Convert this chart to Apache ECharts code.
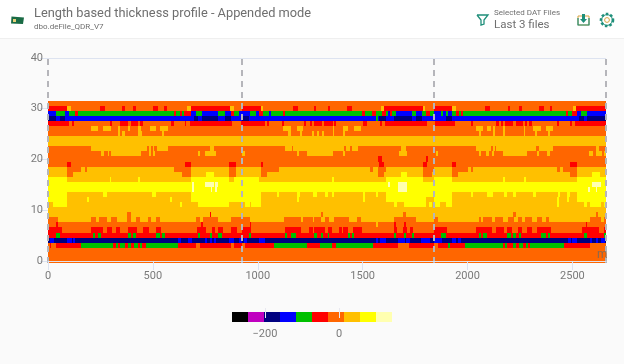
<!DOCTYPE html>
<html>
<head>
<meta charset="utf-8">
<style>
  html, body { margin: 0; padding: 0; background: #fafafa; }
  #main { width: 624px; height: 364px; }
</style>
<script src="https://cdn.jsdelivr.net/npm/echarts@6/dist/echarts.min.js"></script>
</head>
<body>
<div id="main"></div>
<script>
// thickness deviation, one value per colour band
const N = -180, B = -137, G = -94, R = -51, O = -8, A = 35, Y = 78, L = 121;

const bandEdges = [-289, -246, -202, -159, -116, -73, -30, 13, 56, 99, 143];
const bandColors = ['#000000', '#c000c0', '#000080', '#0000ff', '#00c000', '#ff0000', '#ff6600', '#ffc000', '#ffff00', '#ffffb0'];
const legendTicks = [-200, 0];

const xTicks = [0, 500, 1000, 1500, 2000, 2500];
const yTicks = [0, 10, 20, 30, 40];
const xEnd = 2660;
// where each appended DAT file starts
const fileStarts = [0, 925, 1841, 2660];

// each row: start metre, value, start metre, value ...
const row31 = [0,O];
const row30 = [0,R,89,A,108,O,248,R,272,O,353,R,367,O,405,R,420,O,502,R,526,O,555,R,569,O,661,A,682,R,868,A,887,O,925,R,1015,A,1024,O,1170,R,1194,O,1267,R,1279,O,1333,R,1345,O,1426,R,1450,O,1589,A,1600,R,1787,A,1798,O,1841,R,1925,A,1946,O,2084,R,2108,O,2191,R,2204,O,2247,R,2259,O,2342,R,2364,O,2394,R,2404,O,2501,A,2518,R];
const row29 = [0,B,40,G,80,B,100,G,130,R,145,G,600,R,610,G,630,R,640,G,650,R,680,B,705,G,735,B,810,G,845,B,870,R,885,G,910,B,965,G,990,B,1005,R,1025,G,1055,B,1065,G,1120,R,1130,G,1495,R,1510,G,1545,R,1565,G,1590,R,1610,G,1620,B,1630,R,1640,G,1660,B,1735,G,1755,B,1785,G,1800,R,1820,G,1841,B,1875,G,1885,B,1895,G,1905,B,1925,G,1945,R,1960,G,1970,R,1980,G,2470,R,2480,G,2500,R,2520,B,2540,G,2570,B];
const row28 = [0,N,40,B,55,N,80,B,695,N,715,B,735,N,810,B,845,N,870,B,925,N,960,B,1565,G,1575,B,1580,N,1610,B,1650,N,1735,B,1755,N,1785,B,1895,N,1925,B,2530,N,2555,B,2570,N];
const row27 = [0,R,100,O,115,R,125,O,295,R,305,O,345,R,380,O,395,R,430,O,440,R,455,O,585,R,600,O,655,R,660,O,675,R,875,O,920,R,1035,O,1045,R,1055,O,1115,R,1125,O,1220,R,1230,O,1250,R,1260,O,1270,R,1305,O,1315,R,1360,O,1365,R,1375,O,1500,R,1520,O,1585,R,1590,O,1605,R,1805,O,1845,R,1940,O,2015,R,2025,O,2135,R,2150,O,2160,R,2170,O,2180,R,2215,O,2230,R,2265,O,2275,R,2285,O,2295,R,2305,O,2425,R,2435,O,2490,R,2500,O,2510,R];
const row26 = [0,O,205,A,240,O,260,A,300,O,335,A,345,O,380,A,390,O,430,A,445,O,485,A,515,O,535,A,570,O,1120,A,1160,O,1185,A,1215,O,1360,A,1365,O,1405,A,1430,O,1460,A,1490,O,2040,A,2075,O,2095,A,2110,O,2120,A,2130,O,2170,A,2180,O,2270,A,2275,O,2310,A,2350,O,2375,A,2405,O];
const row25 = [0,O,335,A,345,O,355,A,365,O,430,A,450,O,545,A,555,O,1145,A,1160,O,1200,A,1210,O,1260,A,1270,O,1280,A,1290,O,1305,A,1315,O,1360,A,1365,O,1405,A,1415,O,2055,A,2065,O,2120,A,2130,O,2170,A,2180,O,2270,A,2275,O,2320,A,2330,O,2385,A,2395,O];
const row24 = [0,A];
const row23 = [0,A];
const row22 = [0,O,205,A,470,O,480,A,490,O,500,A,505,O,520,A,570,O,770,A,790,O,1130,A,1165,O,1170,A,1410,O,1420,A,1440,O,1450,A,1480,O,1685,A,1705,O,2040,A,2110,O,2120,A,2130,O,2135,A,2325,O,2340,A,2405,O,2610,A,2625,O];
const row21 = [0,O,255,A,265,O,285,A,290,O,300,A,445,O,480,A,490,O,500,A,510,O,715,A,725,O,750,A,800,O,925,A,940,O,1185,A,1195,O,1235,A,1360,O,1405,A,1415,O,1675,A,1710,O,1850,A,1860,O,2055,A,2065,O,2090,A,2100,O,2115,A,2125,O,2170,A,2285,O,2330,A,2340,O,2380,A,2395,O,2580,A,2600,O,2610,A,2640,O,2650,A];
const row20 = [0,O,1575,R,1590,O,1800,R,1810,O];
const row19 = [0,O,90,R,110,O,655,R,680,O,865,R,895,O,1015,R,1025,O,1580,R,1600,O,1790,R,1805,O,1925,R,1945,O,2490,R,2520,O];
const row18 = [0,A,90,O,155,A,175,O,185,A,600,O,680,A,865,O,895,A,1015,O,1100,A,1535,O,1550,A,1575,O,1610,A,1790,O,1840,A,1925,O,2000,A,2015,O,2025,A,2425,O,2440,A,2455,O,2520,A];
const row17 = [0,A,90,O,120,A,640,O,680,A,755,Y,790,A,865,O,895,A,1015,O,1045,A,1575,O,1600,A,1685,Y,1710,A,1790,O,1830,A,1925,O,1955,A,2490,O,2520,A,2595,Y,2630,A];
const row16 = [0,Y,90,A,295,Y,300,A,430,Y,440,A,680,Y,865,A,885,Y,1005,A,1355,Y,1365,A,1610,Y,1790,A,1840,Y,1925,A,2170,Y,2180,A,2270,Y,2280,A,2520,Y];
const row15 = [0,Y,685,L,695,Y,750,L,790,Y,795,L,810,Y,1620,L,1630,Y,1670,L,1710,Y,2595,L,2635,Y];
const row14 = [0,Y,685,L,695,Y,775,L,780,Y,795,L,805,Y,1670,L,1710,Y,2575,L,2585,Y,2610,L,2615,Y];
const row13 = [0,Y,90,A,260,Y,280,A,495,Y,515,A,680,Y,1015,A,1090,Y,1100,A,1185,Y,1200,A,1265,Y,1280,A,1320,Y,1335,A,1355,Y,1365,A,1500,Y,1510,A,1565,Y,1575,A,1610,Y,1925,A,2015,Y,2025,A,2095,Y,2120,A,2175,Y,2190,A,2215,Y,2230,A,2310,Y,2325,A,2430,Y,2440,A,2475,Y,2490,A,2520,Y];
const row12 = [0,Y,90,A,185,Y,195,A,580,Y,590,A,680,Y,1015,A,1185,Y,1195,A,1500,Y,1510,A,1610,Y,1800,A,1840,Y,1925,A,2425,Y,2435,A,2475,Y,2485,A,2520,Y];
const row11 = [0,A,25,Y,90,A,630,Y,640,A,715,Y,865,A,940,Y,965,A,970,Y,1015,A,1650,Y,1665,A,1695,Y,1800,A,1815,Y,1830,A,1845,Y,1870,A,1895,Y,1925,A,2425,Y,2435,A,2555,Y,2570,A,2585,Y,2635,A,2650,Y];
const row10 = [0,A];
const row09 = [0,A,375,O,395,A,770,R,775,A,1300,O,1310,A,1690,O,1705,A,2215,O,2230,A,2610,O,2620,A];
const row08 = [0,O,50,A,205,O,230,A,245,O,280,A,300,O,330,A,375,O,395,A,420,O,440,A,475,O,490,A,515,O,535,A,705,O,725,A,740,O,810,A,870,O,965,A,1125,O,1205,A,1215,O,1265,A,1270,O,1300,A,1320,O,1340,A,1365,O,1435,A,1475,O,1490,A,1650,O,1755,A,1841,O,1860,A,2055,O,2065,A,2075,O,2115,A,2130,O,2170,A,2195,O,2220,A,2240,O,2260,A,2275,O,2305,A,2330,O,2355,A,2375,O,2390,A,2585,O,2635,A,2650,O];
const row07 = [0,O,40,R,50,O,730,R,740,O,965,R,970,O,1565,A,1575,O,1650,R,1660,O,1695,R,1705,O,2565,R,2570,O];
const row06 = [0,R,65,O,205,R,260,O,280,R,305,O,325,R,345,O,380,R,425,O,455,R,480,O,515,R,540,O,710,R,755,O,780,R,795,O,810,R,835,O,870,R,900,O,925,R,970,O,1130,R,1205,O,1245,R,1265,O,1270,R,1320,O,1335,R,1355,O,1385,R,1400,O,1405,R,1430,O,1455,R,1495,O,1650,R,1665,O,1690,R,1710,O,1725,R,1740,O,1841,R,1900,O,2040,R,2115,O,2135,R,2175,O,2190,R,2210,O,2240,R,2260,O,2285,R,2305,O,2330,R,2400,O,2545,R,2625,O,2650,R];
const row05 = [0,R,40,G,55,R,215,G,225,R,240,G,255,R,380,G,395,R,405,G,420,R,515,G,535,R,545,G,560,R,715,G,725,R,770,G,780,R,810,G,830,R,960,G,970,R,1130,G,1140,R,1160,G,1180,R,1270,G,1280,R,1300,G,1310,R,1335,G,1340,R,1430,G,1440,R,1450,G,1460,R,1650,G,1660,R,1695,G,1705,R,1735,G,1745,R,1875,G,1895,R,2055,G,2065,R,2075,G,2095,R,2190,G,2205,R,2215,G,2230,R,2245,G,2255,R,2350,G,2375,R,2385,G,2395,R,2555,G,2570,R,2650,G];
const row04 = [0,N,10,B,30,N,90,B,115,N,120,B,130,N,620,B,635,N,665,B,685,N,750,B,760,N,770,B,780,N,790,B,800,N,865,B,885,N,910,B,925,N,935,B,950,N,1005,B,1035,N,1565,B,1575,N,1585,B,1610,N,1670,B,1700,N,1705,B,1725,N,1780,B,1820,N,1841,B,1880,N,1925,B,1945,N,1955,B,1970,N,2480,B,2495,N,2500,B,2520,N,2585,B,2595,N,2610,B,2620,N,2635,B,2655,N];
const row03 = [0,O,10,R,15,O,40,R,155,G,310,R,325,G,335,R,345,G,365,R,380,G,395,R,410,G,430,R,440,G,450,R,465,G,620,R,705,O,725,R,870,O,885,R,925,O,940,R,1075,G,1235,R,1295,G,1355,R,1375,G,1550,R,1670,O,1720,R,1841,O,1860,R,1905,G,1915,R,1990,G,2170,R,2180,G,2190,R,2215,G,2230,R,2245,G,2265,R,2280,G,2290,R,2300,G,2460,R,2585,O];
const row02 = [0,O];
const row01 = [0,O];
const row00 = [0,O];

const rows = [row00, row01, row02, row03, row04, row05, row06, row07, row08, row09, row10, row11, row12, row13, row14, row15,
  row16, row17, row18, row19, row20, row21, row22, row23, row24, row25, row26, row27, row28, row29, row30, row31];

function colorOf(v) {
  for (let i = 0; i < bandColors.length; i++) {
    if (v < bandEdges[i + 1]) return bandColors[i];
  }
  return bandColors[bandColors.length - 1];
}

// [from, to, row, value]
const cells = [];
rows.forEach((row, r) => {
  for (let i = 0; i < row.length; i += 2) {
    const to = i + 2 < row.length ? row[i + 2] : xEnd;
    cells.push([row[i], to, r, row[i + 1]]);
  }
});
const legendCells = bandColors.map((c, i) => [bandEdges[i], bandEdges[i + 1], 0, (bandEdges[i] + bandEdges[i + 1]) / 2]);

// rows sit a little above their integer, as in the source plot
const rowBelow = 0.4;

function renderRun(params, api) {
  const a = api.coord([api.value(0), api.value(2) - rowBelow]);
  const b = api.coord([api.value(1), api.value(2) + 1 - rowBelow]);
  const x = Math.round(a[0]), y = Math.round(b[1]);
  return {
    type: 'rect',
    shape: { x: x, y: y, width: Math.round(b[0]) - x, height: Math.round(a[1]) - y },
    style: { fill: colorOf(api.value(3)) }
  };
}

const fontFamily = 'Roboto';
const textGrey = '#7a7a7a';
const tickColor = '#dde3f0';
const teal = '#1f8f7a';

const myChart = echarts.init(document.getElementById('main'), null, { renderer: 'canvas' });
myChart.setOption({
  backgroundColor: '#fafafa',
  animation: false,
  graphic: [
    { type: 'rect', z: -1, shape: { x: 0, y: 0, width: 624, height: 38 }, style: { fill: '#ffffff' } },
    { type: 'rect', z: -1, shape: { x: 0, y: 38, width: 624, height: 1 }, style: { fill: '#efefef' } },
    // card icon
    { type: 'polygon', shape: { points: [[11.5, 16.5], [24, 17.5], [23, 24], [11, 23.5]] }, style: { fill: '#1a6b45' } },
    { type: 'rect', shape: { x: 13, y: 19, width: 3, height: 3 }, style: { fill: '#e8d27a' } },
    { type: 'text', style: { x: 34, y: 14, text: 'Length based thickness profile - Appended mode', font: '12.8px Roboto', fill: '#6f6f6f', verticalAlign: 'middle' } },
    { type: 'text', style: { x: 34, y: 27, text: 'dbo.deFile_QDR_V7', font: '8px Roboto', fill: '#6f6f6f', verticalAlign: 'middle' } },
    // funnel icon
    { type: 'polyline', shape: { points: [[477, 15], [488, 15], [484, 20], [484, 24], [481, 25], [481, 20], [477, 15]] }, style: { stroke: teal, lineWidth: 1.3, fill: 'none' } },
    { type: 'text', style: { x: 494, y: 13, text: 'Selected DAT Files', font: '8px Roboto', fill: '#6f6f6f', verticalAlign: 'middle' } },
    { type: 'text', style: { x: 494, y: 25, text: 'Last 3 files', font: '11.5px Roboto', fill: '#6f6f6f', verticalAlign: 'middle' } },
    // download icon
    { type: 'rect', shape: { x: 578, y: 16, width: 11, height: 9 }, style: { stroke: '#d9a441', lineWidth: 1, fill: 'none' } },
    { type: 'polyline', shape: { points: [[578, 18], [578, 25], [589, 25], [589, 18]] }, style: { stroke: teal, lineWidth: 1.2, fill: 'none' } },
    { type: 'polygon', shape: { points: [[582, 14], [585, 14], [585, 19], [587, 19], [583.5, 23], [580, 19], [582, 19]] }, style: { fill: teal } },
    // gear icon
    { type: 'circle', shape: { cx: 607, cy: 20, r: 6 }, style: { stroke: teal, lineWidth: 2.6, lineDash: [2.4, 2], fill: 'none' } },
    { type: 'circle', shape: { cx: 607, cy: 20, r: 5.4 }, style: { stroke: teal, lineWidth: 1, fill: 'none' } },
    { type: 'circle', shape: { cx: 607, cy: 20, r: 2.4 }, style: { stroke: '#d9a441', lineWidth: 1, fill: 'none' } }
  ],
  grid: [
    { left: 48, right: 18, top: 58, bottom: 101 },
    { left: 232, width: 160, top: 312, height: 10 }
  ],
  xAxis: [
    {
      type: 'value',
      gridIndex: 0,
      min: 0,
      max: xEnd,
      z: 5,
      name: 'm',
      nameLocation: 'end',
      nameGap: -9,
      nameTextStyle: { color: '#8a6a50', fontFamily, fontSize: 12, verticalAlign: 'bottom', padding: [0, 0, 0, 0] },
      splitLine: { show: false },
      axisLine: { show: true, lineStyle: { color: tickColor } },
      axisTick: { show: true, length: 9, customValues: xTicks, lineStyle: { color: tickColor } },
      axisLabel: { customValues: xTicks, color: textGrey, fontFamily, fontSize: 11, margin: 8, formatter: v => String(v) }
    },
    {
      type: 'value',
      gridIndex: 1,
      min: bandEdges[0],
      max: bandEdges[bandEdges.length - 1],
      z: 5,
      splitLine: { show: false },
      axisLine: { show: false },
      axisTick: { show: true, inside: true, length: 10, customValues: legendTicks, lineStyle: { color: '#e8e8f0', width: 1 } },
      axisLabel: { customValues: legendTicks, color: textGrey, fontFamily, fontSize: 11, margin: 7, formatter: v => String(v).replace('-', '\u2212') }
    }
  ],
  yAxis: [
    {
      type: 'value',
      gridIndex: 0,
      min: -rowBelow,
      max: 40,
      splitLine: { show: false },
      axisLine: { show: false },
      axisTick: { show: true, length: 8, customValues: yTicks, lineStyle: { color: tickColor } },
      axisLabel: { customValues: yTicks, color: textGrey, fontFamily, fontSize: 11, margin: 5, padding: [3, 0, 0, 0] }
    },
    { type: 'value', gridIndex: 1, min: -rowBelow, max: 1 - rowBelow, show: false }
  ],
  series: [
    {
      type: 'custom',
      xAxisIndex: 0,
      yAxisIndex: 0,
      renderItem: renderRun,
      encode: { x: [0, 1], y: 2 },
      data: cells,
      markLine: {
        silent: true,
        symbol: 'none',
        label: { show: false },
        data: [
          { yAxis: 40, lineStyle: { type: 'solid', color: tickColor, width: 1 } }
        ].concat(fileStarts.map(x => ({ xAxis: x, lineStyle: { type: [6, 5], color: '#b5b5ba', width: 2 } })))
      }
    },
    {
      type: 'custom',
      xAxisIndex: 1,
      yAxisIndex: 1,
      renderItem: renderRun,
      encode: { x: [0, 1], y: 2 },
      data: legendCells
    }
  ]
});
</script>
</body>
</html>
